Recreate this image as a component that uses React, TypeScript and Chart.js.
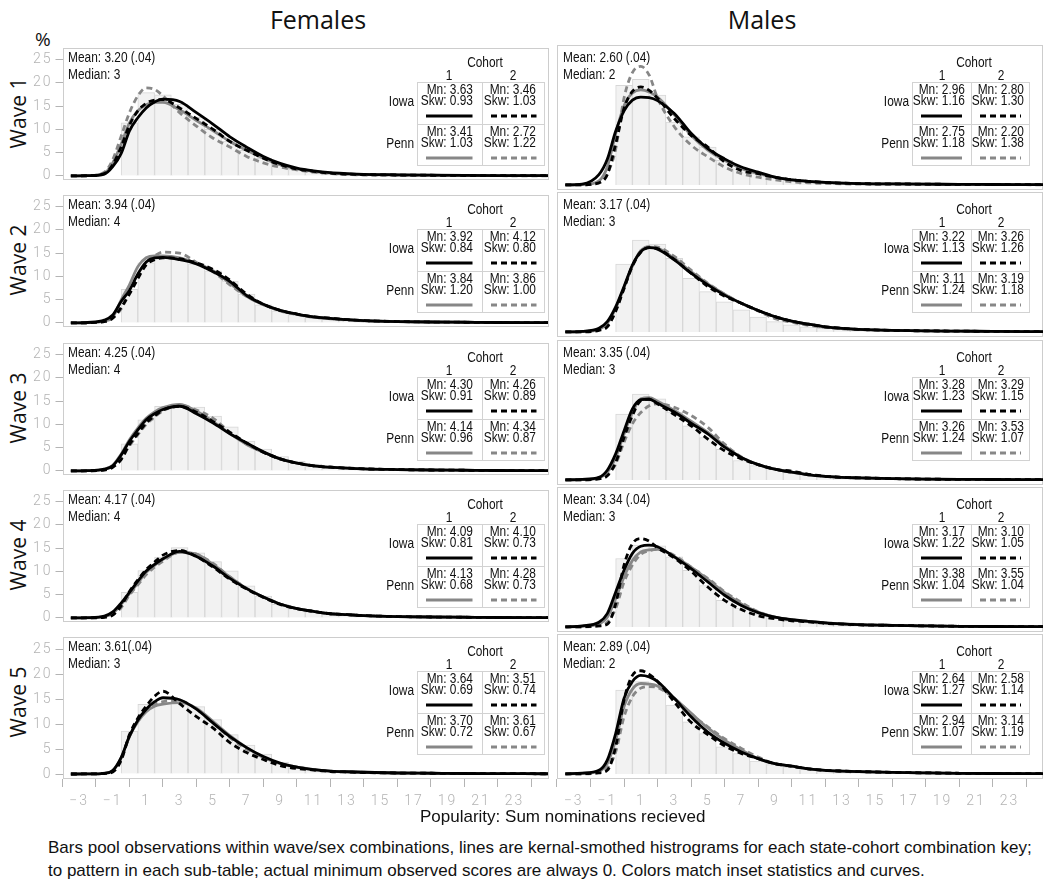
import React, { useEffect, useRef } from "react";
import { Chart, registerables } from "chart.js";

Chart.register(...registerables);

// ---------- DATA ----------
const X_GRID = [-3.5, -2.5, -1.5, -1, -0.5, 0, 0.5, 1, 1.5, 2, 3, 4, 5, 6, 7, 8, 9, 10, 11, 12, 13, 14, 16, 18, 20, 22, 25];
const BAR_X = [0, 1, 2, 3, 4, 5, 6, 7, 8, 9, 10, 11, 12, 13, 14, 15];
const X_TICKS = [-3, -1, 1, 3, 5, 7, 9, 11, 13, 15, 17, 19, 21, 23];
const Y_TICKS = [0, 5, 10, 15, 20, 25];

// Females: histogram bars (% at 0..15)
const F1_BARS = [11.4, 17.9, 17.4, 15.4, 12.6, 10.0, 7.5, 5.5, 3.8, 2.4, 1.5, 1.0, 0.6, 0.4, 0.25, 0.15];
const F2_BARS = [7.2, 12.9, 14.4, 13.8, 12.7, 11.2, 9.0, 6.2, 3.9, 2.6, 1.8, 1.2, 0.8, 0.5, 0.3, 0.2];
const F3_BARS = [5.8, 11.0, 13.9, 14.2, 13.7, 11.8, 9.5, 6.4, 4.7, 3.1, 2.1, 1.5, 1.0, 0.6, 0.4, 0.2];
const F4_BARS = [5.5, 10.2, 13.1, 15.1, 14.0, 12.1, 10.1, 6.9, 4.7, 2.9, 2.0, 1.3, 0.9, 0.6, 0.4, 0.2];
const F5_BARS = [8.6, 14.0, 14.3, 14.2, 13.5, 10.9, 7.9, 5.8, 4.0, 2.4, 1.6, 1.0, 0.7, 0.45, 0.3, 0.2];
// Males
const M1_BARS = [19.5, 20.7, 17.6, 12.3, 9.4, 7.4, 4.8, 3.2, 2.2, 1.5, 1.0, 0.7, 0.45, 0.3, 0.2, 0.1];
const M2_BARS = [13.3, 18.0, 17.2, 14.4, 10.5, 7.9, 5.9, 4.3, 2.9, 2.0, 1.4, 1.0, 0.7, 0.5, 0.3, 0.2];
const M3_BARS = [12.9, 16.8, 15.9, 13.3, 10.6, 8.3, 6.0, 3.8, 2.8, 2.1, 1.5, 1.1, 0.8, 0.5, 0.3, 0.2];
const M4_BARS = [13.4, 16.0, 15.9, 13.7, 11.1, 8.1, 5.2, 3.7, 2.5, 1.8, 1.2, 0.9, 0.6, 0.4, 0.3, 0.2];
const M5_BARS = [16.4, 18.1, 17.1, 13.5, 10.2, 7.9, 5.3, 4.0, 2.5, 1.8, 1.4, 1.0, 0.7, 0.5, 0.3, 0.2];

// Kernel curves (values at X_GRID). IA1 = Iowa cohort 1, IA2 = Iowa cohort 2, PA1 = Penn cohort 1, PA2 = Penn cohort 2
const F1_IA1 = [0, 0.05, 0.4, 2.0, 4.8, 9.7, 12.5, 14.6, 15.9, 16.5, 16.0, 13.6, 11.1, 8.4, 6.2, 4.2, 2.7, 1.7, 1.1, 0.7, 0.5, 0.35, 0.25, 0.18, 0.12, 0.08, 0.05];
const F1_IA2 = [0, 0.05, 0.5, 2.4, 6.2, 10.9, 14.0, 15.6, 16.3, 16.4, 14.6, 12.3, 10.0, 7.4, 5.5, 3.8, 2.4, 1.5, 1.0, 0.6, 0.4, 0.3, 0.2, 0.15, 0.1, 0.07, 0.05];
const F1_PA1 = [0, 0.05, 0.6, 2.8, 6.8, 11.4, 14.0, 15.3, 15.8, 15.8, 14.2, 11.9, 9.7, 7.4, 5.5, 3.8, 2.4, 1.5, 1.0, 0.6, 0.4, 0.3, 0.2, 0.15, 0.1, 0.07, 0.05];
const F1_PA2 = [0, 0.05, 0.8, 3.5, 8.5, 13.6, 17.2, 18.9, 18.6, 17.2, 13.6, 10.7, 8.1, 6.2, 4.2, 2.8, 1.9, 1.3, 0.8, 0.5, 0.3, 0.2, 0.15, 0.1, 0.08, 0.05, 0.03];

const F2_IA1 = [0, 0.1, 0.6, 1.7, 4.6, 7.0, 10.5, 13.1, 14.0, 14.1, 13.6, 12.7, 11.0, 8.9, 5.9, 4.0, 2.7, 1.9, 1.3, 1.0, 0.7, 0.5, 0.3, 0.2, 0.15, 0.1, 0.05];
const F2_IA2 = [0, 0.05, 0.3, 1.0, 3.3, 6.2, 9.5, 12.5, 13.6, 14.0, 13.8, 12.9, 11.5, 9.2, 6.2, 4.0, 2.7, 1.9, 1.3, 1.0, 0.7, 0.5, 0.3, 0.2, 0.15, 0.1, 0.05];
const F2_PA1 = [0, 0.05, 0.4, 1.2, 4.9, 8.2, 12.1, 14.0, 14.4, 14.4, 14.0, 12.8, 11.2, 8.5, 5.7, 3.9, 2.7, 1.9, 1.3, 1.0, 0.7, 0.5, 0.3, 0.2, 0.15, 0.1, 0.05];
const F2_PA2 = [0, 0.05, 0.3, 1.2, 3.0, 6.6, 10.2, 13.1, 14.4, 15.2, 15.0, 13.0, 11.0, 8.2, 5.7, 3.9, 2.6, 1.8, 1.2, 0.9, 0.6, 0.45, 0.3, 0.2, 0.15, 0.1, 0.05];

const F3_IA1 = [0, 0.05, 0.4, 1.1, 3.4, 6.4, 8.8, 11.0, 12.3, 13.2, 13.9, 12.3, 10.3, 8.0, 6.0, 4.1, 2.6, 1.7, 1.1, 0.8, 0.6, 0.45, 0.3, 0.2, 0.15, 0.1, 0.05];
const F3_IA2 = [0, 0.03, 0.2, 0.8, 2.4, 5.7, 8.0, 10.3, 11.8, 13.1, 13.9, 12.6, 10.6, 8.3, 6.0, 4.0, 2.6, 1.7, 1.1, 0.8, 0.6, 0.45, 0.3, 0.2, 0.15, 0.1, 0.05];
const F3_PA1 = [0, 0.05, 0.4, 1.2, 3.6, 6.7, 9.2, 11.3, 12.7, 13.6, 14.3, 12.8, 10.6, 8.0, 5.7, 4.0, 2.6, 1.7, 1.1, 0.8, 0.6, 0.45, 0.3, 0.2, 0.15, 0.1, 0.05];
const F3_PA2 = [0, 0.03, 0.3, 1.0, 2.8, 5.4, 7.8, 10.0, 11.6, 12.9, 14.1, 13.1, 11.3, 8.3, 5.8, 4.0, 2.6, 1.7, 1.1, 0.8, 0.6, 0.45, 0.3, 0.2, 0.15, 0.1, 0.05];

const F4_IA1 = [0, 0.05, 0.4, 1.3, 3.2, 5.5, 7.9, 10.1, 11.5, 12.7, 14.3, 13.2, 11.1, 8.5, 6.3, 4.5, 3.0, 2.0, 1.4, 0.9, 0.7, 0.5, 0.3, 0.2, 0.15, 0.1, 0.05];
const F4_IA2 = [0, 0.02, 0.15, 0.6, 2.6, 5.7, 8.2, 10.4, 12.0, 13.5, 14.5, 13.2, 10.9, 8.3, 6.2, 4.4, 2.9, 2.0, 1.4, 0.9, 0.7, 0.5, 0.3, 0.2, 0.15, 0.1, 0.05];
const F4_PA1 = [0, 0.03, 0.3, 1.0, 2.9, 5.2, 7.5, 9.8, 11.3, 12.6, 14.1, 13.7, 11.5, 8.8, 6.3, 4.5, 3.0, 2.0, 1.4, 0.9, 0.7, 0.5, 0.3, 0.2, 0.15, 0.1, 0.05];
const F4_PA2 = [0, 0.02, 0.2, 0.8, 2.2, 4.9, 7.1, 9.3, 10.9, 12.2, 14.1, 13.7, 11.7, 8.8, 6.4, 4.5, 3.0, 2.0, 1.4, 0.9, 0.7, 0.5, 0.3, 0.2, 0.15, 0.1, 0.05];

const F5_IA1 = [0, 0.02, 0.15, 0.7, 3.3, 7.6, 10.8, 13.0, 14.5, 15.3, 14.9, 13.0, 10.2, 7.5, 5.3, 3.5, 2.2, 1.4, 0.9, 0.6, 0.45, 0.35, 0.2, 0.15, 0.1, 0.08, 0.05];
const F5_IA2 = [0, 0.02, 0.1, 0.4, 2.7, 7.9, 11.2, 13.6, 15.6, 16.6, 14.1, 11.5, 9.2, 6.3, 4.3, 2.9, 1.7, 1.1, 0.8, 0.5, 0.4, 0.3, 0.2, 0.15, 0.1, 0.08, 0.05];
const F5_PA1 = [0, 0.02, 0.15, 0.7, 3.2, 7.5, 10.5, 12.5, 13.6, 14.0, 14.3, 13.2, 10.5, 7.7, 5.3, 3.3, 2.1, 1.4, 0.9, 0.6, 0.45, 0.35, 0.2, 0.15, 0.1, 0.08, 0.05];
const F5_PA2 = [0, 0.02, 0.15, 0.6, 2.9, 7.6, 10.7, 13.0, 14.0, 14.5, 14.7, 13.0, 10.2, 7.3, 5.0, 3.3, 2.1, 1.4, 0.9, 0.6, 0.45, 0.35, 0.2, 0.15, 0.1, 0.08, 0.05];

const M1_IA1 = [0, 0.15, 2.0, 5.0, 10.5, 14.5, 16.6, 17.2, 17.1, 16.5, 14.0, 10.1, 7.1, 5.1, 3.5, 2.5, 1.5, 1.0, 0.7, 0.5, 0.35, 0.25, 0.2, 0.15, 0.1, 0.08, 0.05];
const M1_IA2 = [0, 0.02, 0.4, 2.0, 8.0, 15.0, 18.3, 19.2, 18.5, 17.0, 13.0, 9.7, 7.4, 4.5, 2.8, 2.2, 1.5, 1.0, 0.7, 0.5, 0.35, 0.25, 0.2, 0.15, 0.1, 0.08, 0.05];
const M1_PA1 = [0, 0.05, 0.8, 3.5, 10.0, 15.5, 18.0, 18.6, 18.2, 17.2, 13.7, 9.7, 6.8, 4.8, 3.2, 2.2, 1.5, 1.0, 0.7, 0.5, 0.35, 0.25, 0.2, 0.15, 0.1, 0.08, 0.05];
const M1_PA2 = [0, 0.02, 0.4, 2.2, 7.0, 17.0, 22.0, 23.2, 21.5, 17.0, 11.4, 7.8, 5.5, 3.5, 2.2, 1.5, 1.0, 0.6, 0.4, 0.3, 0.2, 0.15, 0.1, 0.08, 0.05, 0.04, 0.03];

const M2_IA1 = [0, 0.1, 0.7, 2.0, 4.9, 8.9, 13.1, 15.7, 16.5, 16.2, 14.1, 11.5, 9.2, 7.2, 5.6, 4.2, 3.0, 2.1, 1.5, 1.0, 0.7, 0.5, 0.3, 0.2, 0.15, 0.1, 0.05];
const M2_IA2 = [0, 0.02, 0.3, 1.0, 4.0, 8.5, 12.9, 15.6, 16.5, 16.3, 14.2, 11.5, 8.9, 7.0, 5.6, 4.2, 3.0, 2.1, 1.5, 1.0, 0.7, 0.5, 0.3, 0.2, 0.15, 0.1, 0.05];
const M2_PA1 = [0, 0.05, 0.5, 1.7, 4.6, 8.7, 12.9, 15.9, 16.6, 16.4, 14.4, 11.8, 9.4, 7.4, 5.6, 4.2, 3.0, 2.1, 1.5, 1.0, 0.7, 0.5, 0.3, 0.2, 0.15, 0.1, 0.05];
const M2_PA2 = [0, 0.03, 0.4, 1.2, 4.3, 8.5, 12.9, 15.9, 16.7, 16.6, 14.8, 12.1, 9.5, 7.4, 5.6, 4.1, 2.6, 1.9, 1.3, 0.9, 0.6, 0.45, 0.3, 0.2, 0.15, 0.1, 0.05];

const M3_IA1 = [0, 0.1, 0.5, 1.9, 5.1, 9.6, 13.9, 15.7, 15.8, 15.0, 13.3, 11.1, 9.0, 6.4, 4.4, 3.0, 2.1, 1.5, 1.0, 0.7, 0.5, 0.4, 0.25, 0.15, 0.1, 0.08, 0.05];
const M3_IA2 = [0, 0.02, 0.2, 0.8, 3.4, 8.3, 12.6, 15.5, 15.8, 14.9, 12.8, 10.6, 8.0, 5.7, 4.1, 3.0, 2.1, 1.7, 1.1, 0.7, 0.5, 0.4, 0.25, 0.15, 0.1, 0.08, 0.05];
const M3_PA1 = [0, 0.05, 0.4, 1.5, 4.4, 9.0, 13.2, 15.9, 16.1, 15.4, 13.6, 11.5, 9.3, 6.7, 4.4, 3.0, 2.1, 1.5, 1.0, 0.7, 0.5, 0.4, 0.25, 0.15, 0.1, 0.08, 0.05];
const M3_PA2 = [0, 0.02, 0.3, 1.0, 3.1, 7.4, 11.0, 13.2, 14.5, 14.9, 14.2, 12.6, 10.3, 7.0, 4.5, 3.0, 2.1, 1.5, 1.0, 0.7, 0.5, 0.4, 0.25, 0.15, 0.1, 0.08, 0.05];

const M4_IA1 = [0, 0.2, 0.9, 2.6, 6.8, 11.1, 14.4, 15.8, 16.0, 15.7, 13.7, 11.4, 8.8, 6.2, 4.2, 2.8, 1.9, 1.4, 1.1, 0.8, 0.6, 0.45, 0.3, 0.2, 0.12, 0.08, 0.05];
const M4_IA2 = [0, 0.02, 0.2, 0.5, 4.5, 12.1, 16.3, 17.3, 16.8, 15.5, 13.5, 10.9, 7.8, 5.2, 3.4, 2.2, 1.6, 1.2, 1.0, 0.7, 0.55, 0.4, 0.3, 0.2, 0.12, 0.08, 0.05];
const M4_PA1 = [0, 0.1, 0.6, 1.9, 5.5, 9.8, 13.0, 14.7, 15.1, 15.2, 13.8, 11.7, 9.3, 6.7, 4.5, 2.9, 1.9, 1.4, 1.1, 0.8, 0.6, 0.45, 0.3, 0.2, 0.12, 0.08, 0.05];
const M4_PA2 = [0, 0.02, 0.2, 0.9, 3.6, 8.8, 12.1, 14.2, 14.9, 15.2, 14.0, 11.7, 9.5, 6.9, 4.8, 3.0, 1.9, 1.4, 1.1, 0.8, 0.6, 0.45, 0.3, 0.2, 0.12, 0.08, 0.05];

const M5_IA1 = [0, 0.15, 0.7, 2.7, 7.9, 14.8, 18.1, 19.3, 19.0, 18.1, 14.8, 11.2, 8.2, 6.0, 4.3, 3.0, 2.0, 1.5, 1.0, 0.7, 0.55, 0.45, 0.3, 0.2, 0.12, 0.08, 0.05];
const M5_IA2 = [0, 0.02, 0.2, 0.7, 5.3, 14.5, 19.3, 20.2, 19.5, 18.1, 14.1, 10.1, 7.7, 5.5, 4.0, 3.0, 2.0, 1.5, 1.0, 0.7, 0.55, 0.45, 0.3, 0.2, 0.12, 0.08, 0.05];
const M5_PA1 = [0, 0.1, 0.5, 2.0, 6.6, 13.2, 16.6, 17.7, 17.6, 17.2, 14.8, 11.9, 9.0, 6.6, 4.7, 3.0, 2.0, 1.5, 1.0, 0.7, 0.55, 0.45, 0.3, 0.2, 0.12, 0.08, 0.05];
const M5_PA2 = [0, 0.02, 0.3, 1.1, 4.3, 11.2, 15.1, 16.8, 17.1, 16.9, 14.8, 11.7, 9.2, 6.9, 5.0, 3.3, 2.0, 1.5, 1.0, 0.7, 0.55, 0.45, 0.3, 0.2, 0.12, 0.08, 0.05];

// Panel statistics text
const F_MEANS = ["Mean: 3.20 (.04)", "Mean: 3.94 (.04)", "Mean: 4.25 (.04)", "Mean: 4.17 (.04)", "Mean: 3.61(.04)"];
const F_MEDIANS = ["Median: 3", "Median: 4", "Median: 4", "Median: 4", "Median: 3"];
const M_MEANS = ["Mean: 2.60 (.04)", "Mean: 3.17 (.04)", "Mean: 3.35 (.04)", "Mean: 3.34 (.04)", "Mean: 2.89 (.04)"];
const M_MEDIANS = ["Median: 2", "Median: 3", "Median: 3", "Median: 3", "Median: 2"];

const F_IA1_MN = ["3.63", "3.92", "4.30", "4.09", "3.64"];
const F_IA1_SKW = ["0.93", "0.84", "0.91", "0.81", "0.69"];
const F_IA2_MN = ["3.46", "4.12", "4.26", "4.10", "3.51"];
const F_IA2_SKW = ["1.03", "0.80", "0.89", "0.73", "0.74"];
const F_PA1_MN = ["3.41", "3.84", "4.14", "4.13", "3.70"];
const F_PA1_SKW = ["1.03", "1.20", "0.96", "0.68", "0.72"];
const F_PA2_MN = ["2.72", "3.86", "4.34", "4.28", "3.61"];
const F_PA2_SKW = ["1.22", "1.00", "0.87", "0.73", "0.67"];
const M_IA1_MN = ["2.96", "3.22", "3.28", "3.17", "2.64"];
const M_IA1_SKW = ["1.16", "1.13", "1.23", "1.22", "1.27"];
const M_IA2_MN = ["2.80", "3.26", "3.29", "3.10", "2.58"];
const M_IA2_SKW = ["1.30", "1.26", "1.15", "1.05", "1.14"];
const M_PA1_MN = ["2.75", "3.11", "3.26", "3.38", "2.94"];
const M_PA1_SKW = ["1.18", "1.24", "1.24", "1.04", "1.07"];
const M_PA2_MN = ["2.20", "3.19", "3.53", "3.55", "3.14"];
const M_PA2_SKW = ["1.38", "1.18", "1.07", "1.04", "1.19"];

const WAVE_LABELS = ["Wave 1", "Wave 2", "Wave 3", "Wave 4", "Wave 5"];
const COLUMN_TITLES = ["Females", "Males"];
const STATE_LABELS = ["Iowa", "Penn"];
const COHORT_LABELS = ["1", "2"];
const X_TITLE = "Popularity: Sum nominations recieved";
const CAPTION_1 = "Bars pool observations within wave/sex combinations, lines are kernal-smothed histrograms for each state-cohort combination key;";
const CAPTION_2 = "to pattern in each sub-table; actual minimum observed scores are always 0.  Colors match inset statistics and curves.";

// ---------- ASSEMBLY ----------
const F_BARS = [F1_BARS, F2_BARS, F3_BARS, F4_BARS, F5_BARS];
const M_BARS = [M1_BARS, M2_BARS, M3_BARS, M4_BARS, M5_BARS];
const F_CURVES = [
  [F1_IA1, F1_IA2, F1_PA1, F1_PA2],
  [F2_IA1, F2_IA2, F2_PA1, F2_PA2],
  [F3_IA1, F3_IA2, F3_PA1, F3_PA2],
  [F4_IA1, F4_IA2, F4_PA1, F4_PA2],
  [F5_IA1, F5_IA2, F5_PA1, F5_PA2],
];
const M_CURVES = [
  [M1_IA1, M1_IA2, M1_PA1, M1_PA2],
  [M2_IA1, M2_IA2, M2_PA1, M2_PA2],
  [M3_IA1, M3_IA2, M3_PA1, M3_PA2],
  [M4_IA1, M4_IA2, M4_PA1, M4_PA2],
  [M5_IA1, M5_IA2, M5_PA1, M5_PA2],
];
const F_STATS = [[F_IA1_MN, F_IA1_SKW], [F_IA2_MN, F_IA2_SKW], [F_PA1_MN, F_PA1_SKW], [F_PA2_MN, F_PA2_SKW]];
const M_STATS = [[M_IA1_MN, M_IA1_SKW], [M_IA2_MN, M_IA2_SKW], [M_PA1_MN, M_PA1_SKW], [M_PA2_MN, M_PA2_SKW]];

// ---------- STYLE / LAYOUT ----------
const BLACK = "#000000";
const GRAY = "#878787";
const SERIES_STYLE = [
  { color: BLACK, dash: [] as number[], order: 1 },
  { color: BLACK, dash: [6, 4], order: 2 },
  { color: GRAY, dash: [] as number[], order: 3 },
  { color: GRAY, dash: [6, 4], order: 4 },
];
const PANEL_TOP0 = 45;
const ROW_STEP = 147.3;
const PANEL_H = 145;
const COLS = [
  { x0: 62.5, x1: 548, tLeft: 417, tMid: 481.5, tRight: 545, pad: 9 },
  { x0: 557, x1: 1043, tLeft: 912, tMid: 971, tRight: 1030, pad: 6 },
];
const TICK_COLOR = "#b4b4b4";
const NARROW = 0.85;
const TEXT_FONT = '"Liberation Sans", Arial, sans-serif';
const TITLE_FONT = '"Open Sans", "Liberation Sans", sans-serif';

const framePlugin = {
  id: "frame",
  beforeDraw(chart: any) {
    chart.ctx.letterSpacing = "2px";
  },
  beforeDatasetsDraw(chart: any) {
    const { ctx, chartArea: a } = chart;
    ctx.save();
    ctx.strokeStyle = "#cdcdcd";
    ctx.lineWidth = 1;
    ctx.strokeRect(Math.round(a.left) + 0.5, Math.round(a.top) + 0.5, Math.round(a.right - a.left) - 1, Math.round(a.bottom - a.top) - 1);
    ctx.restore();
  },
};

function PanelChart({ col, row }: { col: number; row: number }) {
  const ref = useRef<HTMLCanvasElement | null>(null);
  const isLeft = col === 0;
  const isBottom = row === 4;
  const panelTop = Math.round(PANEL_TOP0 + ROW_STEP * row);
  const padTop = 8;
  const axisH = 38;
  const canvasLeft = isLeft ? 20 : COLS[1].x0 - 2;
  const canvasWidth = isLeft ? 530 : 490;
  const canvasTop = panelTop - padTop;
  const canvasHeight = padTop + PANEL_H + (isBottom ? axisH : 2);

  useEffect(() => {
    const bars = (col === 0 ? F_BARS : M_BARS)[row];
    const curves = (col === 0 ? F_CURVES : M_CURVES)[row];
    const datasets: any[] = curves.map((vals, k) => ({
      type: "line",
      data: X_GRID.map((x, i) => ({ x, y: vals[i] })),
      borderColor: SERIES_STYLE[k].color,
      borderDash: SERIES_STYLE[k].dash,
      borderWidth: 2.8,
      pointRadius: 0,
      fill: false,
      cubicInterpolationMode: "monotone",
      order: SERIES_STYLE[k].order,
    }));
    datasets.push({
      type: "bar",
      data: BAR_X.map((x, i) => ({ x, y: bars[i] })),
      backgroundColor: "#f2f2f2",
      borderColor: "#d7d7d7",
      borderWidth: 1,
      barPercentage: 1,
      categoryPercentage: 1,
      order: 10,
    });
    const chart = new Chart(ref.current as HTMLCanvasElement, {
      type: "bar",
      data: { datasets },
      options: {
        animation: false,
        responsive: false,
        maintainAspectRatio: false,
        events: [],
        plugins: { legend: { display: false }, tooltip: { enabled: false } },
        layout: { padding: { top: padTop, right: 2, bottom: isBottom ? 0 : 2, left: isLeft ? 0 : 2 } },
        scales: {
          x: {
            type: "linear",
            min: -4,
            max: 25,
            offset: false,
            display: isBottom,
            grid: { drawOnChartArea: false, drawTicks: true, tickLength: 8, color: TICK_COLOR },
            border: { display: false },
            ticks: {
              color: TICK_COLOR,
              font: { family: "Roboto, 'DejaVu Sans', sans-serif", size: 14, weight: 300 },
              padding: 6,
              maxRotation: 0,
              autoSkip: false,
              callback: (v: any) => (Number(v) < 0 ? "\u2212" + Math.abs(Number(v)) : String(v)),
            },
            afterBuildTicks: (s: any) => {
              s.ticks = X_TICKS.map((v) => ({ value: v }));
            },
            afterFit: (s: any) => {
              if (isBottom) s.height = axisH;
            },
          } as any,
          y: {
            type: "linear",
            min: -1,
            max: 27.4,
            display: isLeft,
            grid: { drawOnChartArea: false, drawTicks: true, tickLength: 7, color: TICK_COLOR },
            border: { display: false },
            ticks: {
              color: TICK_COLOR,
              font: { family: "Roboto, 'DejaVu Sans', sans-serif", size: 14, weight: 300 },
              padding: 3,
              autoSkip: false,
            },
            afterBuildTicks: (s: any) => {
              s.ticks = Y_TICKS.map((v) => ({ value: v }));
            },
            afterFit: (s: any) => {
              if (isLeft) s.width = 42.5;
            },
          } as any,
        },
      },
      plugins: [framePlugin],
    } as any);
    return () => chart.destroy();
  }, []);

  return (
    <canvas
      ref={ref}
      width={canvasWidth}
      height={canvasHeight}
      style={{ position: "absolute", left: canvasLeft, top: canvasTop, width: canvasWidth, height: canvasHeight }}
    />
  );
}

function Narrow({ left, top, text, align = "left", size = 14, width = 200, lh = 17 }: any) {
  const boxLeft = align === "left" ? left : align === "right" ? left - width : left - width / 2;
  return (
    <div
      style={{
        position: "absolute",
        left: boxLeft,
        top,
        width,
        textAlign: align,
        fontSize: size,
        lineHeight: lh + "px",
        whiteSpace: "nowrap",
        fontFamily: TEXT_FONT,
        color: "#111",
        transform: `scaleX(${NARROW})`,
        transformOrigin: align === "left" ? "left top" : align === "right" ? "right top" : "center top",
      }}
    >
      {text}
    </div>
  );
}

function SampleLine({ x1, x2, y, k }: any) {
  const st = SERIES_STYLE[k];
  return (
    <svg style={{ position: "absolute", left: x1, top: y - 3, width: x2 - x1, height: 6, overflow: "visible" }}>
      <line x1={0} y1={3} x2={x2 - x1} y2={3} stroke={st.color} strokeWidth={3} strokeDasharray={st.dash.length ? st.dash.join(" ") : undefined} />
    </svg>
  );
}

function PanelOverlay({ col, row }: { col: number; row: number }) {
  const c = COLS[col];
  const pt = Math.round(PANEL_TOP0 + ROW_STEP * row);
  const means = col === 0 ? F_MEANS : M_MEANS;
  const medians = col === 0 ? F_MEDIANS : M_MEDIANS;
  const stats = col === 0 ? F_STATS : M_STATS;
  const tTop = pt + 37;
  const tMidY = pt + 79;
  const tBot = pt + 121;
  const border = "1px solid #d2d2d2";
  const cells: any[] = [];
  for (let r = 0; r < 2; r++) {
    for (let cc = 0; cc < 2; cc++) {
      const k = r * 2 + cc;
      const cl = cc === 0 ? c.tLeft : c.tMid;
      const cr = cc === 0 ? c.tMid : c.tRight;
      const rt = r === 0 ? tTop : tMidY;
      cells.push(
        <React.Fragment key={k}>
          <Narrow left={cr - c.pad} top={rt + 2} text={"Mn: " + stats[k][0][row]} align="right" size={14} lh={11} width={80} />
          <Narrow left={cr - c.pad} top={rt + 13} text={"Skw: " + stats[k][1][row]} align="right" size={14} lh={11} width={80} />
          <SampleLine x1={cl + 9} x2={cr - 9} y={rt + 34} k={k} />
        </React.Fragment>
      );
    }
  }
  return (
    <>
      <Narrow left={c.x0 + 5.5} top={pt + 4} text={means[row]} />
      <Narrow left={c.x0 + 5.5} top={pt + 21} text={medians[row]} />
      <Narrow left={c.tMid + 3} top={pt + 9} text="Cohort" align="center" width={80} />
      <Narrow left={(c.tLeft + c.tMid) / 2} top={pt + 22} text={COHORT_LABELS[0]} align="center" width={30} />
      <Narrow left={(c.tMid + c.tRight) / 2} top={pt + 22} text={COHORT_LABELS[1]} align="center" width={30} />
      <Narrow left={c.tLeft - 3} top={pt + 48} text={STATE_LABELS[0]} align="right" width={60} />
      <Narrow left={c.tLeft - 3} top={pt + 90} text={STATE_LABELS[1]} align="right" width={60} />
      <div style={{ position: "absolute", left: c.tLeft, top: tTop, width: c.tRight - c.tLeft, height: tBot - tTop, border, boxSizing: "border-box", background: "#fff" }} />
      <div style={{ position: "absolute", left: c.tMid, top: tTop, width: 0, height: tBot - tTop, borderLeft: border }} />
      <div style={{ position: "absolute", left: c.tLeft, top: tMidY, width: c.tRight - c.tLeft, height: 0, borderTop: border }} />
      {cells}
    </>
  );
}

export default function App() {
  const rows = [0, 1, 2, 3, 4];
  return (
    <div style={{ position: "absolute", left: 0, top: 0, width: 1050, height: 888, background: "#fff", overflow: "hidden", fontFamily: TEXT_FONT }}>
      <div style={{ position: "absolute", left: 218, width: 200, top: 2, textAlign: "center", fontFamily: TITLE_FONT, fontSize: 25, color: "#111" }}>{COLUMN_TITLES[0]}</div>
      <div style={{ position: "absolute", left: 662, width: 200, top: 2, textAlign: "center", fontFamily: TITLE_FONT, fontSize: 25, color: "#111" }}>{COLUMN_TITLES[1]}</div>
      <div style={{ position: "absolute", left: 35, top: 26, fontFamily: TITLE_FONT, fontSize: 19, color: "#111" }}>%</div>
      {rows.map((r) => (
        <div
          key={"w" + r}
          style={{
            position: "absolute",
            left: 18 - 50,
            width: 100,
            top: Math.round(PANEL_TOP0 + ROW_STEP * r) + 68 - 14,
            height: 28,
            lineHeight: "28px",
            textAlign: "center",
            fontFamily: TITLE_FONT,
            fontSize: 21,
            color: "#111",
            transform: "rotate(-90deg)",
          }}
        >
          {WAVE_LABELS[r]}
        </div>
      ))}
      {rows.map((r) => (
        <React.Fragment key={"p" + r}>
          <PanelChart col={0} row={r} />
          <PanelChart col={1} row={r} />
        </React.Fragment>
      ))}
      {rows.map((r) => (
        <React.Fragment key={"o" + r}>
          <PanelOverlay col={0} row={r} />
          <PanelOverlay col={1} row={r} />
        </React.Fragment>
      ))}
      <div style={{ position: "absolute", left: 420, top: 806, fontSize: 17, lineHeight: "22px", color: "#111", whiteSpace: "nowrap" }}>{X_TITLE}</div>
      <div style={{ position: "absolute", left: 48, top: 836, fontSize: 17, lineHeight: "23px", color: "#111", whiteSpace: "nowrap" }}>
        <div>{CAPTION_1}</div>
        <div>{CAPTION_2}</div>
      </div>
    </div>
  );
}
